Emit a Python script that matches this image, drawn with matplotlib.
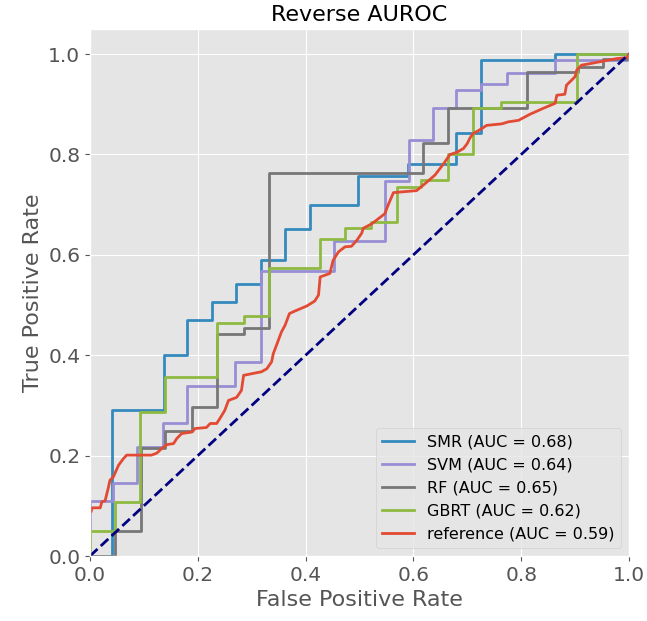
import matplotlib
matplotlib.use('Agg')
import matplotlib.pyplot as plt
import numpy as np

plt.style.use('ggplot')

# ROC curves (fpr, tpr corner points)
fpr_smr = [0, 0.041, 0.041, 0.137, 0.137, 0.18, 0.18, 0.226, 0.226, 0.27, 0.27,
           0.317, 0.317, 0.362, 0.362, 0.408, 0.408, 0.498, 0.498, 0.59, 0.59,
           0.679, 0.679, 0.725, 0.725, 0.863, 0.863, 1.0]
tpr_smr = [0, 0, 0.29, 0.29, 0.40, 0.40, 0.471, 0.471, 0.506, 0.506, 0.542,
           0.542, 0.589, 0.589, 0.651, 0.651, 0.70, 0.70, 0.758, 0.758, 0.782,
           0.782, 0.843, 0.843, 0.988, 0.988, 1.0, 1.0]

fpr_svm = [0, 0, 0.042, 0.042, 0.088, 0.088, 0.135, 0.135, 0.18, 0.18, 0.269,
           0.269, 0.318, 0.318, 0.452, 0.452, 0.547, 0.547, 0.591, 0.591, 0.636,
           0.636, 0.679, 0.679, 0.725, 0.725, 0.773, 0.773, 0.863, 0.863, 1.0, 1.0]
tpr_svm = [0, 0.11, 0.11, 0.146, 0.146, 0.217, 0.217, 0.264, 0.264, 0.339, 0.339,
           0.387, 0.387, 0.567, 0.567, 0.627, 0.627, 0.747, 0.747, 0.829, 0.829,
           0.893, 0.893, 0.928, 0.928, 0.94, 0.94, 0.963, 0.963, 0.988, 0.988, 1.0]

fpr_rf = [0, 0.046, 0.046, 0.094, 0.094, 0.14, 0.14, 0.19, 0.19, 0.236, 0.236,
          0.285, 0.285, 0.333, 0.333, 0.617, 0.617, 0.665, 0.665, 0.81, 0.81,
          0.905, 0.905, 0.952, 0.952, 1.0, 1.0]
tpr_rf = [0, 0, 0.05, 0.05, 0.216, 0.216, 0.25, 0.25, 0.297, 0.297, 0.442,
          0.442, 0.455, 0.455, 0.763, 0.763, 0.822, 0.822, 0.892, 0.892, 0.964,
          0.964, 0.975, 0.975, 0.99, 0.99, 1.0]

fpr_gbrt = [0, 0, 0.046, 0.046, 0.093, 0.093, 0.14, 0.14, 0.236, 0.236, 0.285,
            0.285, 0.333, 0.333, 0.426, 0.426, 0.474, 0.474, 0.522, 0.522, 0.569,
            0.569, 0.615, 0.615, 0.665, 0.665, 0.711, 0.711, 0.762, 0.762, 0.903,
            0.903, 1.0]
tpr_gbrt = [0, 0.05, 0.05, 0.107, 0.107, 0.287, 0.287, 0.357, 0.357, 0.465, 0.465,
            0.478, 0.478, 0.574, 0.574, 0.632, 0.632, 0.654, 0.654, 0.666, 0.666,
            0.736, 0.736, 0.75, 0.75, 0.80, 0.80, 0.892, 0.892, 0.905, 0.905,
            1.0, 1.0]

fpr_ref = [0, 0.002, 0.004, 0.019, 0.022, 0.028, 0.034, 0.037, 0.043, 0.053, 0.062,
           0.068, 0.114, 0.124, 0.133, 0.143, 0.155, 0.161, 0.17, 0.189, 0.195,
           0.216, 0.223, 0.235, 0.241, 0.25, 0.257, 0.272, 0.281, 0.285, 0.318,
           0.328, 0.337, 0.34, 0.346, 0.355, 0.362, 0.37, 0.38, 0.402, 0.417,
           0.424, 0.427, 0.445, 0.451, 0.461, 0.473, 0.485, 0.495, 0.504, 0.507,
           0.523, 0.535, 0.547, 0.553, 0.563, 0.606, 0.625, 0.64, 0.655, 0.668,
           0.68, 0.693, 0.7, 0.705, 0.711, 0.72, 0.736, 0.764, 0.776, 0.795,
           0.816, 0.841, 0.863, 0.866, 0.881, 0.884, 0.9, 0.903, 0.912, 0.928,
           0.952, 0.977, 0.996, 1.0]
tpr_ref = [0.088, 0.088, 0.096, 0.096, 0.108, 0.11, 0.136, 0.151, 0.157, 0.181, 0.194,
           0.201, 0.201, 0.205, 0.214, 0.222, 0.224, 0.234, 0.244, 0.247, 0.254,
           0.256, 0.264, 0.264, 0.274, 0.29, 0.31, 0.316, 0.33, 0.36, 0.367,
           0.373, 0.387, 0.403, 0.42, 0.446, 0.46, 0.483, 0.488, 0.498, 0.508,
           0.52, 0.556, 0.563, 0.589, 0.606, 0.616, 0.617, 0.629, 0.643, 0.653,
           0.662, 0.672, 0.682, 0.699, 0.724, 0.728, 0.745, 0.759, 0.78, 0.8,
           0.804, 0.812, 0.822, 0.833, 0.842, 0.847, 0.858, 0.861, 0.865, 0.868,
           0.88, 0.892, 0.902, 0.918, 0.92, 0.938, 0.955, 0.968, 0.978, 0.981,
           0.986, 0.991, 0.993, 1.0]

names = ['SMR', 'SVM', 'RF', 'GBRT', 'reference']
aucs = [0.68, 0.64, 0.65, 0.62, 0.59]
colors = ['#348ABD', '#988ED5', '#777777', '#8EBA42', '#E24A33']
curves = [(fpr_smr, tpr_smr), (fpr_svm, tpr_svm), (fpr_rf, tpr_rf),
          (fpr_gbrt, tpr_gbrt), (fpr_ref, tpr_ref)]

fig = plt.figure(figsize=(6.47, 6.21), dpi=100)
ax = fig.add_axes([90 / 647, 65 / 621, 539 / 647, 527 / 621])

for (fpr, tpr), name, auc, c in zip(curves, names, aucs, colors):
    ax.plot(fpr, tpr, color=c, lw=2, label='%s (AUC = %0.2f)' % (name, auc))
ax.plot([0, 1], [0, 1], color='navy', lw=2, linestyle='--')

ax.set_xlim(0.0, 1.0)
ax.set_ylim(0.0, 1.05)
ax.set_xticks(np.arange(0, 1.01, 0.2))
ax.set_yticks(np.arange(0, 1.01, 0.2))
ax.tick_params(labelsize=14.5)
ax.set_xlabel('False Positive Rate', fontsize=16)
ax.set_ylabel('True Positive Rate', fontsize=16)
ax.set_title('Reverse AUROC', fontsize=16)
ax.legend(loc='lower right', fontsize=11.5)

fig.savefig('out.png', dpi=100)
